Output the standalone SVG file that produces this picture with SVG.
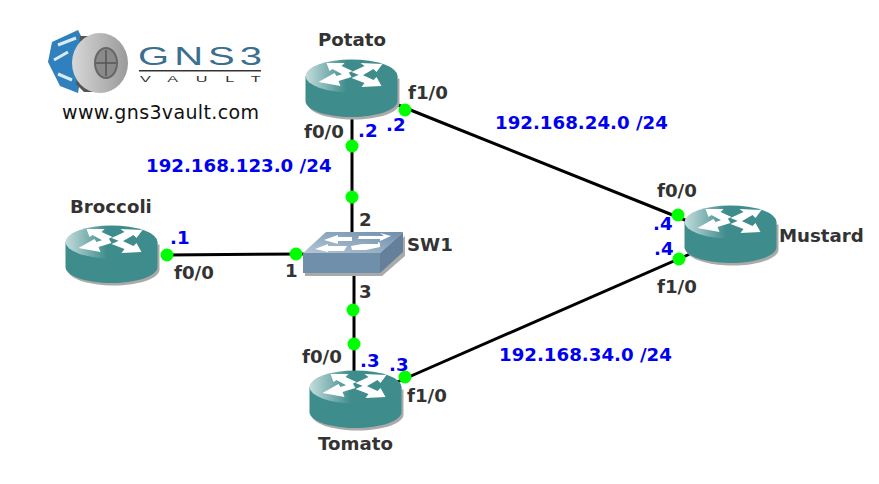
<svg xmlns="http://www.w3.org/2000/svg" width="879" height="484" viewBox="0 0 879 484">
<style>
.l{font-family:"DejaVu Sans",sans-serif;font-weight:bold;font-size:18.2px;fill:#333}
.b{font-family:"DejaVu Sans",sans-serif;font-weight:bold;font-size:18.2px;fill:#0000f0}
.c{stroke:#000;stroke-width:3;fill:none}
.d{fill:#0f0}
.w{fill:#fff}
</style>
<defs>
<linearGradient id="rt" x1="0" y1="0" x2="1" y2="0"><stop offset="0" stop-color="#c4dcdc"/><stop offset=".45" stop-color="#3f8c8c"/><stop offset="1" stop-color="#3f8c8c"/></linearGradient>
<linearGradient id="st" x1="0" y1="1" x2="1" y2="0"><stop offset="0" stop-color="#b4c6d6"/><stop offset="1" stop-color="#6f8faa"/></linearGradient>
<linearGradient id="disk" x1="0" y1="0" x2="1" y2="0"><stop offset="0" stop-color="#d8d8d8"/><stop offset=".5" stop-color="#b8b8b8"/><stop offset="1" stop-color="#9a9a9a"/></linearGradient>
<symbol id="router" width="96" height="64" viewBox="0 0 96 64" overflow="visible">
<path d="M0 17V42C0 51 21 58 46 58S92 51 92 42V17Z" fill="#aaa" transform="translate(2 2.500)"/>
<path d="M0 17V42C0 51 21 58 46 58S92 51 92 42V17Z" fill="#3f8c8c"/>
<ellipse cx="46" cy="17" rx="46" ry="16.500" fill="url(#rt)"/>
<path class="w" d="M21 4H39L36 7L47 12L38 16L27 10L24 12ZM77 5L71 13L68 10L56 17L46 13L59 7L55 4ZM13 23L29 14L31 17L43 13L46 18L33 22L35 27ZM76 27L56 28L59 24L46 19L55 15L68 21L71 18Z"/>
</symbol>
</defs>
<rect width="879" height="484" fill="#fff"/>
<g id="logo">
<path d="M52 42L78 30L86 46L78 93L60 86L48 62Z" fill="#2f80bd"/>
<path d="M58 45L76 38M54 60L68 52M58 74L72 80" stroke="#d8ecf8" stroke-width="3" fill="none"/>
<path d="M80 36H100V92H84L76 84Z" fill="#555"/>
<ellipse cx="100" cy="63" rx="28" ry="30" fill="url(#disk)"/>
<ellipse cx="106" cy="63" rx="11" ry="15" fill="#8a8a8a" stroke="#666" stroke-width="2"/>
<path d="M106 50V76M96 63H116" stroke="#555" stroke-width="1.500"/>
<text transform="translate(138 65) scale(1.600 1)" x="0" y="0" font-family="Liberation Sans, sans-serif" font-size="25" fill="#3a6f8f" textLength="77.500" lengthAdjust="spacing">GNS3</text>
<rect x="139" y="70" width="122" height="1.500" fill="#333"/>
<text transform="translate(140 82) scale(1.800 1)" x="0" y="0" font-family="Liberation Sans, sans-serif" font-size="9" fill="#333" textLength="67" lengthAdjust="spacing">VAULT</text>
<text x="62" y="119" font-family="DejaVu Sans, sans-serif" font-size="19" fill="#111" textLength="197">www.gns3vault.com</text>
</g>
<g id="connectors">
<path class="c" d="M352 118V232"/>
<path class="c" d="M167 255L304 254"/>
<path class="c" d="M354 274V372"/>
<path class="c" d="M398 105L690 222"/>
<path class="c" d="M395 383L690 254"/>
</g>
<g id="potato"><use href="#router" x="305.500" y="59"/><text class="l" x="318" y="46">Potato</text></g>
<g id="broccoli"><use href="#router" x="65.500" y="225"/><text class="l" x="70" y="213">Broccoli</text></g>
<g id="mustard"><use href="#router" x="684.500" y="205"/><text class="l" x="779" y="242">Mustard</text></g>
<g id="tomato"><use href="#router" x="309.500" y="370"/><text class="l" x="318" y="450">Tomato</text></g>
<g id="sw1">
<path d="M305 257H382L405 236V256L382 276H305Z" fill="#aaa"/>
<path d="M303 253H380L403 232H326Z" fill="url(#st)"/>
<path d="M303 253H380V273H303Z" fill="#6f8faa"/>
<path d="M380 253L403 232V252L380 273Z" fill="#64809a"/>
<path class="w" d="M324 240L338 235V237H352V241H338V244ZM359 236H384L380 233L391 236L380 241V239H358ZM315 249L328 244V246H347L344 251H328V252ZM351 246L362 244H378V242L380 243L380 247L366 250H352Z"/>
<text class="l" x="407" y="251">SW1</text>
</g>
<g id="dots">
<circle class="d" cx="352" cy="146" r="6.500"/><circle class="d" cx="352" cy="197" r="6.500"/>
<circle class="d" cx="405" cy="110" r="6.500"/><circle class="d" cx="678" cy="215" r="6.500"/>
<circle class="d" cx="679" cy="259" r="6.500"/><circle class="d" cx="405" cy="377" r="6.500"/>
<circle class="d" cx="167" cy="255" r="6.500"/><circle class="d" cx="296" cy="254" r="6.500"/>
<circle class="d" cx="353" cy="310" r="6.500"/><circle class="d" cx="354" cy="344" r="6.500"/>
</g>
<g id="labels">
<text class="l" x="408" y="99">f1/0</text>
<text class="l" x="304" y="138">f0/0</text>
<text class="b" x="358" y="137">.2</text>
<text class="b" x="386" y="131">.2</text>
<text class="b" x="495" y="129">192.168.24.0 /24</text>
<text class="b" x="146" y="172">192.168.123.0 /24</text>
<text class="l" x="657" y="197">f0/0</text>
<text class="b" x="653" y="230">.4</text>
<text class="b" x="654" y="255">.4</text>
<text class="l" x="657" y="293">f1/0</text>
<text class="b" x="170" y="244">.1</text>
<text class="l" x="174" y="279">f0/0</text>
<text class="l" x="285" y="277">1</text>
<text class="l" x="359" y="226">2</text>
<text class="l" x="359" y="298">3</text>
<text class="l" x="302" y="363">f0/0</text>
<text class="b" x="360" y="367">.3</text>
<text class="b" x="389" y="371">.3</text>
<text class="l" x="407" y="402">f1/0</text>
<text class="b" x="499" y="361">192.168.34.0 /24</text>
</g>
</svg>
